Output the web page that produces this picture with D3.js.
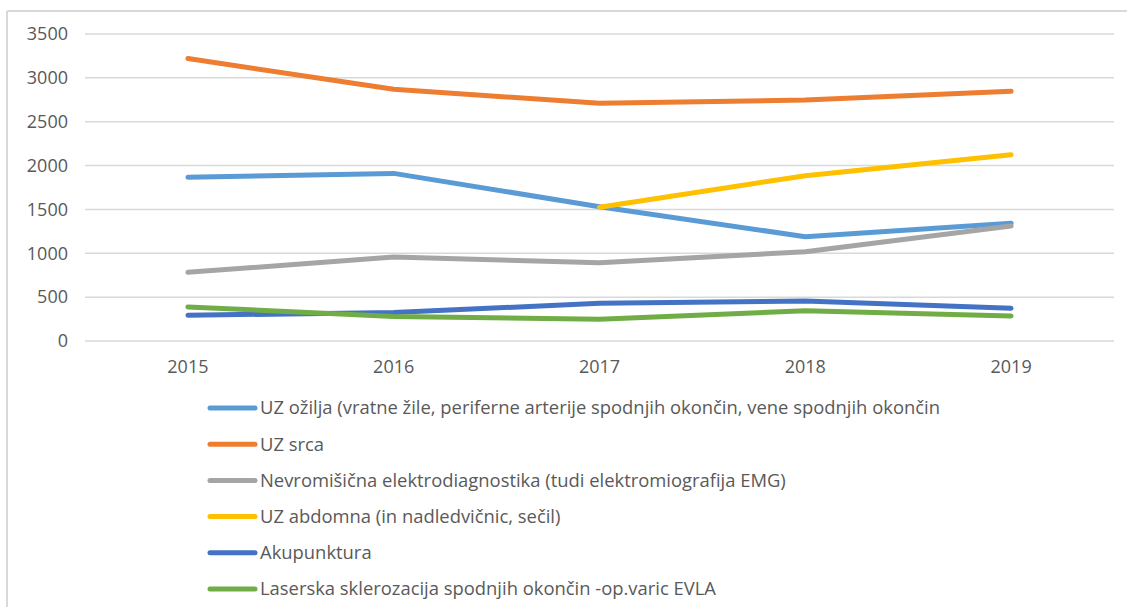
<!DOCTYPE html>
<html>
<head>
<meta charset="utf-8">
<script src="https://cdn.jsdelivr.net/npm/d3@7"></script>
<style>
  body { margin: 0; background: #fff; }
  text { font-family: "Open Sans", sans-serif; fill: #595959; }
</style>
</head>
<body>
<svg id="chart" width="1127" height="607"></svg>
<script>
// years on the x axis
const years = ['2015', '2016', '2017', '2018', '2019'];

// series names (legend order = draw order)
const seriesNames = [
  'UZ ožilja (vratne žile, periferne arterije spodnjih okončin, vene spodnjih okončin',
  'UZ srca',
  'Nevromišična elektrodiagnostika (tudi elektromiografija EMG)',
  'UZ abdomna (in nadledvičnic, sečil)',
  'Akupunktura',
  'Laserska sklerozacija spodnjih okončin -op.varic EVLA'
];

// values, null = no point
const uzOzilja = [1866, 1911, 1531, 1189, 1342];
const uzSrca = [3220, 2870, 2710, 2747, 2846];
const nevromisicna = [783, 958, 893, 1018, 1311];
const uzAbdomna = [null, null, 1524, 1885, 2124];
const akupunktura = [293, 325, 430, 456, 373];
const laserska = [388, 280, 247, 345, 285];

const yTicks = [0, 500, 1000, 1500, 2000, 2500, 3000, 3500];
const colors = ['#5B9BD5', '#ED7D31', '#A5A5A5', '#FFC000', '#4472C4', '#70AD47'];

const allValues = [uzOzilja, uzSrca, nevromisicna, uzAbdomna, akupunktura, laserska];
const series = seriesNames.map((name, i) => ({ name, values: allValues[i], color: colors[i] }));

const svg = d3.select('#chart');

// chart frame (only top and left edges are visible in the crop)
svg.append('line').attr('x1', 7).attr('y1', 11).attr('x2', 1127).attr('y2', 11)
  .attr('stroke', '#D9D9D9').attr('stroke-width', 2);
svg.append('line').attr('x1', 7).attr('y1', 11).attr('x2', 7).attr('y2', 607)
  .attr('stroke', '#D9D9D9').attr('stroke-width', 2);

const x = d3.scaleBand().domain(years).range([85, 1114]);
const y = d3.scaleLinear().domain([0, 3500]).range([341, 34]);

// horizontal gridlines
svg.append('g').selectAll('line')
  .data(yTicks)
  .join('line')
  .attr('x1', 85).attr('x2', 1114)
  .attr('y1', d => y(d)).attr('y2', d => y(d))
  .attr('stroke', '#D9D9D9').attr('stroke-width', 1.5);

// y axis labels
const yAxis = svg.append('g')
  .attr('transform', 'translate(68,0)')
  .call(d3.axisLeft(y).tickValues(yTicks).tickFormat(d3.format('d')).tickSize(0).tickPadding(0));
yAxis.select('.domain').remove();
yAxis.selectAll('text').style('font-size', '18px').attr('fill', '#595959')
  .style('font-family', '"Open Sans", sans-serif');

// x axis labels
const xAxis = svg.append('g')
  .attr('transform', 'translate(0,360)')
  .call(d3.axisBottom(x).tickSize(0).tickPadding(0));
xAxis.select('.domain').remove();
xAxis.selectAll('text').style('font-size', '18px').attr('fill', '#595959')
  .style('font-family', '"Open Sans", sans-serif');

const line = d3.line()
  .defined(d => d.v != null)
  .x(d => x(d.year) + x.bandwidth() / 2)
  .y(d => y(d.v));

svg.append('g').selectAll('path')
  .data(series)
  .join('path')
  .attr('d', s => line(s.values.map((v, j) => ({ year: years[j], v }))))
  .attr('fill', 'none')
  .attr('stroke', s => s.color)
  .attr('stroke-width', 5)
  .attr('stroke-linecap', 'round')
  .attr('stroke-linejoin', 'round');

// legend, one row per series
const legend = svg.append('g').selectAll('g')
  .data(series)
  .join('g')
  .attr('transform', (d, i) => `translate(0,${408 + i * 36.2})`);

legend.append('line')
  .attr('x1', 210).attr('x2', 255)
  .attr('stroke', d => d.color)
  .attr('stroke-width', 5)
  .attr('stroke-linecap', 'round');

legend.append('text')
  .attr('x', 260)
  .attr('dy', '0.35em')
  .style('font-size', '18.4px')
  .text(d => d.name);
</script>
</body>
</html>
